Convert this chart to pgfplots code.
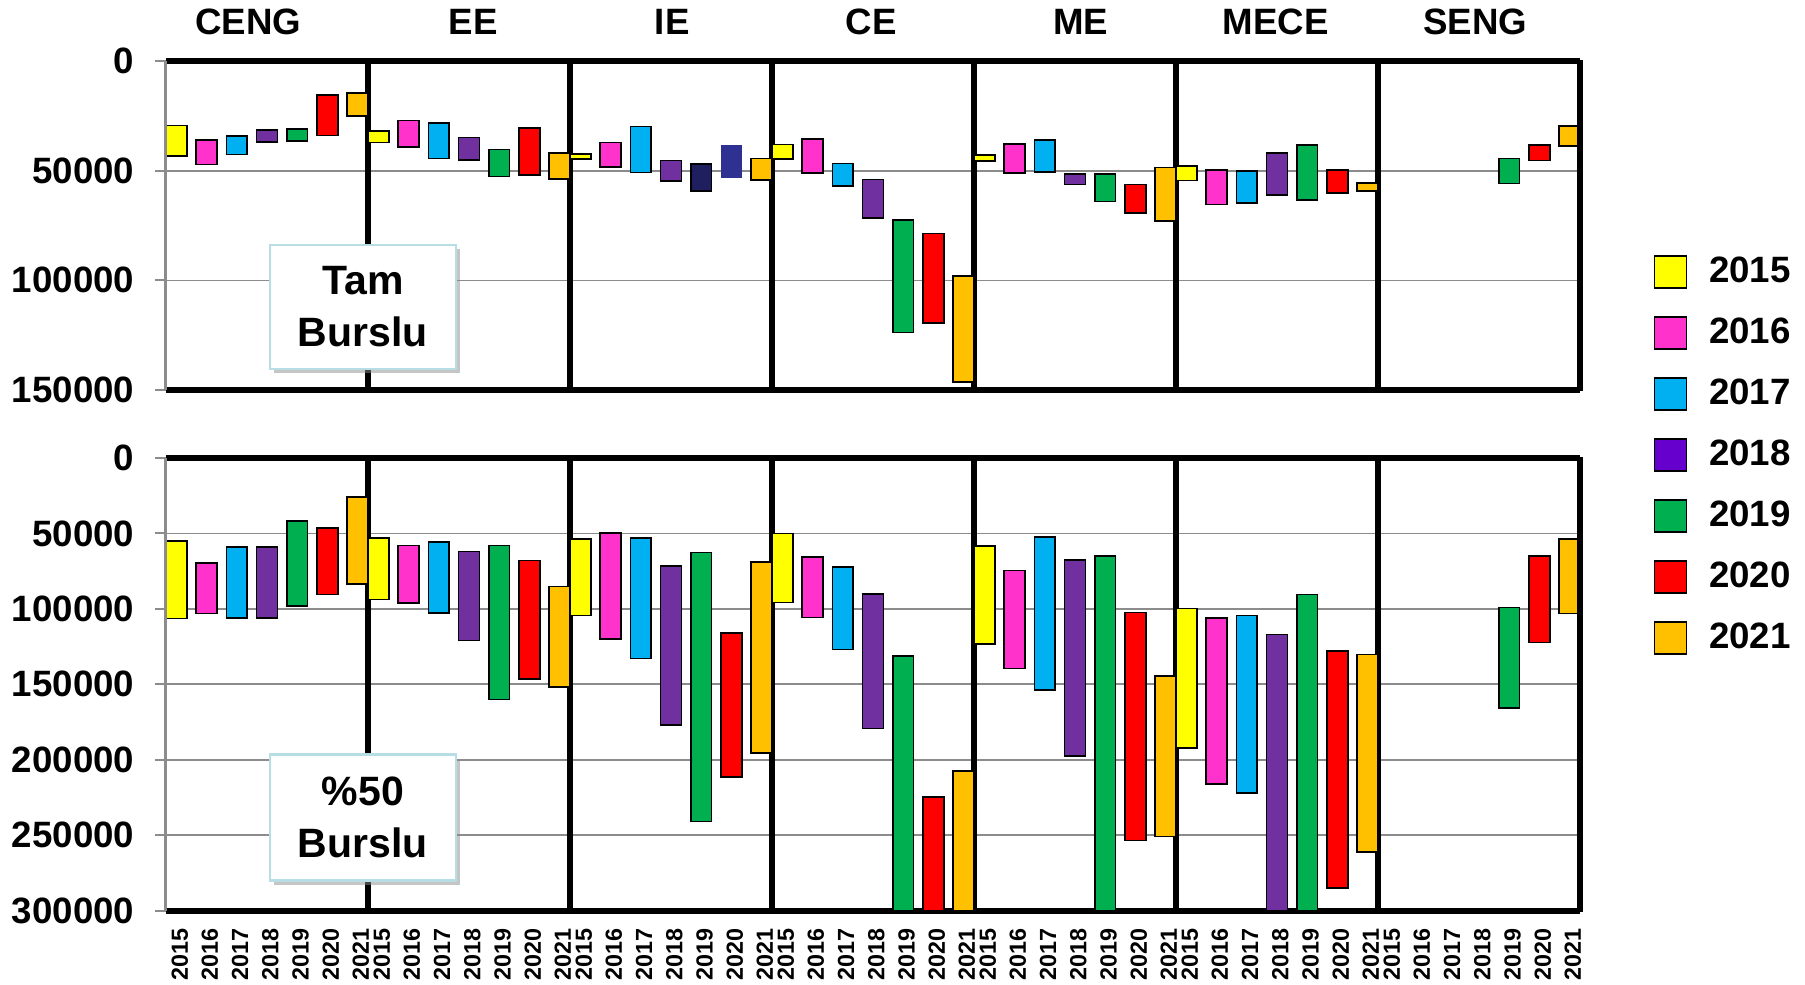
\documentclass[border=0pt]{standalone}
\usepackage{fontspec}
\setmainfont{Liberation Sans}
\usepackage{pgfplots}
\pgfplotsset{compat=1.18}
\usepackage{pgfplotstable}
\usetikzlibrary{shadows}

\definecolor{c15}{HTML}{FFFF00}
\definecolor{c16}{HTML}{FF33CC}
\definecolor{c17}{HTML}{00B0F0}
\definecolor{c18}{HTML}{7030A0}
\definecolor{c19}{HTML}{00B050}
\definecolor{c20}{HTML}{FF0000}
\definecolor{c21}{HTML}{FFC000}
\definecolor{leg18}{HTML}{6600CC}
\definecolor{navyA}{HTML}{1F1F5F}
\definecolor{navyB}{HTML}{2E3192}
\definecolor{boxc}{HTML}{B7DEE4}
\definecolor{gridc}{HTML}{8C8C8C}

% g = department (CENG..SENG), k = year slot (0 = 2015), lo/hi = range, s = colour
\pgfplotstableread{
g k lo hi s
0 0 29400 43200 0
0 1 36000 47200 1
0 2 34100 42600 2
0 3 31500 37000 3
0 4 30900 36400 4
0 5 15500 34000 5
0 6 14700 25100 6
1 0 32000 37200 0
1 1 27100 39200 1
1 2 28200 44400 2
1 3 34900 45000 3
1 4 40300 52700 4
1 5 30600 51900 5
1 6 41900 53700 6
2 0 42400 44800 0
2 1 37100 48200 1
2 2 29900 50800 2
2 3 45400 54600 3
2 4 47100 59300 7
2 5 38300 53200 8
2 6 44400 54300 6
3 0 38000 44700 0
3 1 35500 51100 1
3 2 46700 57000 2
3 3 54000 71500 3
3 4 72600 123700 4
3 5 78700 119400 5
3 6 98000 146400 6
4 0 42700 45600 0
4 1 37800 51000 1
4 2 36000 50700 2
4 3 51600 56300 3
4 4 51600 64000 4
4 5 56300 69400 5
4 6 48500 72900 6
5 0 47800 54400 0
5 1 49600 65400 1
5 2 50100 64800 2
5 3 41800 61200 3
5 4 38400 63400 4
5 5 49800 60300 5
5 6 55600 59400 6
6 4 44400 55900 4
6 5 38400 45300 5
6 6 29700 38600 6
}\tamdata

\pgfplotstableread{
g k lo hi s
0 0 55200 106400 0
0 1 69800 103100 1
0 2 59000 106000 2
0 3 59000 106000 3
0 4 41700 98300 4
0 5 46200 90500 5
0 6 26000 83600 6
1 0 52900 93800 0
1 1 58100 96000 1
1 2 55500 102600 2
1 3 61900 121000 3
1 4 58100 160200 4
1 5 67900 146700 5
1 6 85200 151700 6
2 0 53800 104300 0
2 1 49500 119800 1
2 2 53100 132900 2
2 3 71700 177100 3
2 4 62600 241000 4
2 5 116000 211400 5
2 6 68800 195700 6
3 0 50000 95700 0
3 1 65500 105700 1
3 2 72100 126900 2
3 3 90000 179300 3
3 4 131400 300000 4
3 5 224800 300000 5
3 6 207600 300000 6
4 0 58300 123300 0
4 1 74500 139500 1
4 2 52400 153800 2
4 3 67600 197400 3
4 4 65000 300000 4
4 5 102400 253600 5
4 6 144300 251000 6
5 0 99800 192400 0
5 1 106000 216000 1
5 2 104300 221900 2
5 3 117100 300000 3
5 4 90500 300000 4
5 5 128100 285200 5
5 6 130200 261200 6
6 4 99100 165700 4
6 5 64800 122400 5
6 6 53600 103100 6
}\yarimdata

% one colour of floating bars: zero height where the row belongs to another colour
\newcommand{\seg}[3]{\addplot[draw=black, line width=0.5pt, #3] table[x expr=6.69*\thisrow{g}+\thisrow{k}, y expr={\thisrow{s}==#2 ? \thisrow{hi}-\thisrow{lo} : 0}] {#1};}
\newcommand{\base}[1]{\addplot[draw=none, fill=none] table[x expr=6.69*\thisrow{g}+\thisrow{k}, y=lo] {#1};}

\tikzset{
  tag/.style={draw=boxc, line width=0.8pt, fill=white, minimum width=55.8pt,
    align=center, font=\bfseries\fontsize{12.3}{15.6}\selectfont,
    drop shadow={shadow xshift=1.2pt, shadow yshift=-1.2pt, fill=black!45, opacity=0.5}},
  dept/.style={font=\bfseries\fontsize{11}{13}\selectfont},
}

\pgfplotsset{
  sqlegend/.style={legend image code/.code={\draw[##1, draw=black, line width=0.5pt] (0pt,-4.8pt) rectangle (9.6pt,4.8pt);}},
  panel/.style={
    scale only axis, width=424.2pt,
    xmin=-0.345, xmax=46.485,
    y dir=reverse, ymin=0,
    ybar stacked, stacked ignores zero, bar width=0.69,
    clip=false,
    scaled y ticks=false,
    ymajorgrids, major grid style={gridc, line width=0.5pt},
    ytick pos=left, tick align=outside, major tick length=3.3pt,
    ytick style={gridc, line width=0.6pt},
    yticklabel style={font=\bfseries\fontsize{11}{13}\selectfont, inner sep=0pt, xshift=-6pt},
    extra x ticks={6.345,13.035,19.725,26.415,33.105,39.795},
    extra x tick labels={},
    extra x tick style={grid=major, major grid style={black, line width=1.6pt}, tick style={draw=none}},
    separate axis lines,
    x axis line style={black, line width=1.8pt},
    y axis line style={draw=none},
    after end axis/.code={
      \draw[gridc, line width=0.9pt] (axis description cs:0,0) -- (axis description cs:0,1);
      \draw[black, line width=1.6pt] (axis description cs:1,-0.003) -- (axis description cs:1,1.003);
    },
  },
}

\begin{document}
\begin{tikzpicture}
\useasboundingbox (0,0) rectangle (541.5pt,-295.2pt);

\begin{axis}[panel,
    at={(49.8pt,-117pt)}, anchor=south west,
    height=98.7pt, ymax=150000,
    ytick={0,50000,100000,150000},
    yticklabels={0,50000,100000,150000},
    xtick=\empty,
    legend style={draw=none, fill=none, inner sep=0pt, outer sep=0pt,
      at={(1.052,0.4103)}, anchor=north west,
      nodes={inner sep=0pt}, row sep=8.2pt, column sep=6.6pt,
      font=\bfseries\fontsize{11}{13}\selectfont},
    legend cell align=left,
  ]
  \addlegendimage{sqlegend, fill=c15}
  \addlegendimage{sqlegend, fill=c16}
  \addlegendimage{sqlegend, fill=c17}
  \addlegendimage{sqlegend, fill=leg18}
  \addlegendimage{sqlegend, fill=c19}
  \addlegendimage{sqlegend, fill=c20}
  \addlegendimage{sqlegend, fill=c21}
  \base{\tamdata}
  \seg{\tamdata}{0}{fill=c15}
  \seg{\tamdata}{1}{fill=c16}
  \seg{\tamdata}{2}{fill=c17}
  \seg{\tamdata}{3}{fill=c18}
  \seg{\tamdata}{4}{fill=c19}
  \seg{\tamdata}{5}{fill=c20}
  \seg{\tamdata}{6}{fill=c21}
  \seg{\tamdata}{7}{fill=navyA}
  \seg{\tamdata}{8}{fill=navyB, draw=none}
  \legend{2015,2016,2017,2018,2019,2020,2021}

  \node[dept] at (axis description cs:0.0582,1.1185) {CENG};
  \node[dept] at (axis description cs:0.2173,1.1185) {EE};
  \node[dept] at (axis description cs:0.3580,1.1185) {IE};
  \node[dept] at (axis description cs:0.4986,1.1185) {CE};
  \node[dept] at (axis description cs:0.6470,1.1185) {ME};
  \node[dept] at (axis description cs:0.7848,1.1185) {MECE};
  \node[dept] at (axis description cs:0.9260,1.1185) {SENG};
  \node[tag, minimum height=37.2pt] at (axis description cs:0.1392,0.2523) {Tam\\Burslu};
\end{axis}

\begin{axis}[panel,
    at={(49.8pt,-273.15pt)}, anchor=south west,
    height=135.75pt, ymax=300000,
    ytick={0,50000,100000,150000,200000,250000,300000},
    yticklabels={0,50000,100000,150000,200000,250000,300000},
    xtick={0,1,2,3,4,5,6,6.69,7.69,8.69,9.69,10.69,11.69,12.69,13.38,14.38,15.38,16.38,17.38,18.38,19.38,20.07,21.07,22.07,23.07,24.07,25.07,26.07,26.76,27.76,28.76,29.76,30.76,31.76,32.76,33.45,34.45,35.45,36.45,37.45,38.45,39.45,40.14,41.14,42.14,43.14,44.14,45.14,46.14},
    xticklabels={2015,2016,2017,2018,2019,2020,2021,2015,2016,2017,2018,2019,2020,2021,2015,2016,2017,2018,2019,2020,2021,2015,2016,2017,2018,2019,2020,2021,2015,2016,2017,2018,2019,2020,2021,2015,2016,2017,2018,2019,2020,2021,2015,2016,2017,2018,2019,2020,2021},
    xtick style={draw=none},
    % shifts act in the rotated frame: xshift moves along the text (up), yshift across it
    xticklabel style={rotate=90, anchor=east, inner sep=0pt, xshift=-2pt, yshift=-1pt, font=\bfseries\fontsize{7}{8}\selectfont},
  ]
  \base{\yarimdata}
  \seg{\yarimdata}{0}{fill=c15}
  \seg{\yarimdata}{1}{fill=c16}
  \seg{\yarimdata}{2}{fill=c17}
  \seg{\yarimdata}{3}{fill=c18}
  \seg{\yarimdata}{4}{fill=c19}
  \seg{\yarimdata}{5}{fill=c20}
  \seg{\yarimdata}{6}{fill=c21}
  \node[tag, minimum height=37.8pt] at (axis description cs:0.1392,0.2055) {\%50\\Burslu};
\end{axis}
\end{tikzpicture}
\end{document}
